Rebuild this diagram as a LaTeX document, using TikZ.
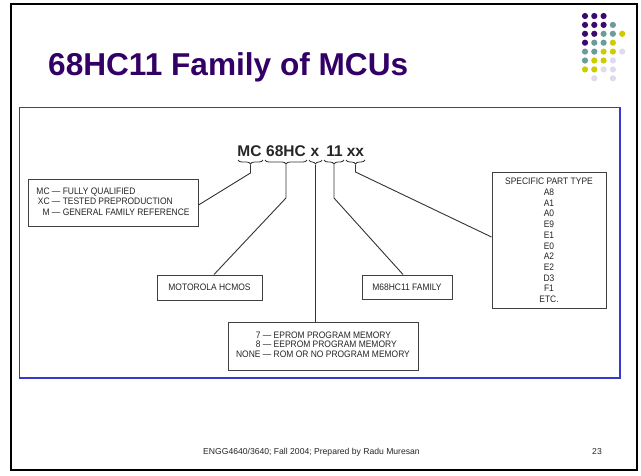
\documentclass[tikz,border=0pt]{standalone}
\usepackage{fontspec}
\setmainfont{Liberation Sans}
\newfontfamily\boxfont[FakeStretch=0.9]{Liberation Sans}
\usetikzlibrary{decorations.pathreplacing,calc}
\definecolor{titlepurple}{HTML}{330066}
\definecolor{dotpurple}{HTML}{3A0A6E}
\definecolor{dotteal}{HTML}{6A9C9C}
\definecolor{dotyellow}{HTML}{CCCC00}
\definecolor{dotlav}{HTML}{DCDCEE}
\definecolor{frameblue}{HTML}{3838D0}
\begin{document}
\begin{tikzpicture}[x=1pt,y=-1pt,
  lbl/.style={font=\boxfont\fontsize{9.4}{10.5}\selectfont, text=black!85},
  boxn/.style={draw=black!75, line width=1pt, inner sep=0pt, align=center},
  conn/.style={draw=black!80, line width=0.9pt},
  brc/.style={decorate, decoration={brace, mirror, amplitude=4pt}, draw=black!80, line width=0.8pt},
  code/.style={font=\bfseries\fontsize{15.5}{16}\selectfont, text=black!85, inner sep=0pt, anchor=base}]
\useasboundingbox (0,0) rectangle (641,475);
\fill[white] (0,0) rectangle (641,475);
% slide frame
\draw[line width=2.6pt, black] (11,4) rectangle (637,470);
% title
\node[anchor=base west, inner sep=0pt, text=titlepurple,
      font=\bfseries\fontsize{31.6}{32}\selectfont] (title) at (48,75) {68HC11 Family of MCUs};
% decorative dots
\foreach \r/\cols in {0/{0/dotpurple,1/dotpurple,2/dotpurple},
                      1/{0/dotpurple,1/dotpurple,2/dotpurple,3/dotteal},
                      2/{0/dotpurple,1/dotpurple,2/dotteal,3/dotteal,4/dotyellow},
                      3/{0/dotpurple,1/dotteal,2/dotteal,3/dotyellow},
                      4/{0/dotteal,1/dotteal,2/dotyellow,3/dotyellow,4/dotlav},
                      5/{0/dotteal,1/dotyellow,2/dotyellow,3/dotlav},
                      6/{0/dotyellow,1/dotyellow,2/dotlav,3/dotlav},
                      7/{1/dotlav,3/dotlav}}{
  \foreach \c/\col in \cols {
    \fill[\col] (585+9.3*\c, 16+8.9*\r) circle[radius=3.1pt];
  }
}
% blue frame
\draw[frameblue, line width=1.2pt] (19.5,107.5) rectangle (620,378);
% code parts
\node[code] (mc) at (249.5,156) {MC};
\node[code] (hc) at (286,156) {68HC};
\node[code] (xa) at (315,156) {x};
\node[code] (el) at (334.5,156) {11};
\node[code] (xx) at (355.5,156) {xx};
% braces
\draw[brc] (238,160) -- (263,160);
\draw[brc] (265,160) -- (307,160);
\draw[brc] (309,160) -- (322,160);
\draw[brc] (324,160) -- (344,160);
\draw[brc] (346,160) -- (365,160);
\coordinate (tmc) at (250.5,164.5);
\coordinate (thc) at (286,164.5);
\coordinate (txa) at (315.5,164.5);
\coordinate (tel) at (334,164.5);
\coordinate (txx) at (355.5,164.5);
% boxes
\node[boxn, lbl, minimum width=170pt, minimum height=47pt] (lbox) at (113,202.5)
  {\begin{tabular}{@{}r@{\ —\ }l@{}}MC & FULLY QUALIFIED\\ XC & TESTED PREPRODUCTION\\ M & GENERAL FAMILY REFERENCE\end{tabular}};
\node[boxn, lbl, minimum width=105pt, minimum height=25pt] (mot) at (209.5,287.5) {MOTOROLA HCMOS};
\node[boxn, lbl, minimum width=90pt, minimum height=24pt] (fam) at (407,287) {M68HC11 FAMILY};
\node[boxn, lbl, minimum width=190pt, minimum height=48pt, font=\boxfont\fontsize{9.4}{9.6}\selectfont] (mem) at (323,346)
  {\begin{tabular}{@{}r@{\ —\ }l@{}}7 & EPROM PROGRAM MEMORY\\ 8 & EEPROM PROGRAM MEMORY\\ NONE & ROM OR NO PROGRAM MEMORY\end{tabular}};
\node[boxn, lbl, minimum width=114pt, minimum height=136pt, font=\boxfont\fontsize{9.4}{10.7}\selectfont] (part) at (549,240.5)
  {SPECIFIC PART TYPE\\A8\\A1\\A0\\E9\\E1\\E0\\A2\\E2\\D3\\F1\\ETC.};
% connectors
\draw[conn] (tmc) -- ++(0,8.5) -- ($(lbox.east)+(0,2.5)$);
\draw[conn] (thc) -- ++(0,33.5) -- ($(mot.north)+(4.5,0)$);
\draw[conn] (txa) -- (txa |- mem.north);
\draw[conn] (tel) -- ++(0,33.5) -- ($(fam.north)+(-4,0)$);
\draw[conn] (txx) -- ++(0,7.5) -- ($(part.west)+(0,-3.5)$);
% footer
\node[font=\fontsize{8.6}{10}\selectfont, text=black!85, inner sep=0pt] (foot) at (311.5,452) {ENGG4640/3640; Fall 2004; Prepared by Radu Muresan};
\node[font=\fontsize{8.6}{10}\selectfont, text=black!85, inner sep=0pt] (pnum) at (597,452) {23};
\end{tikzpicture}
\end{document}
